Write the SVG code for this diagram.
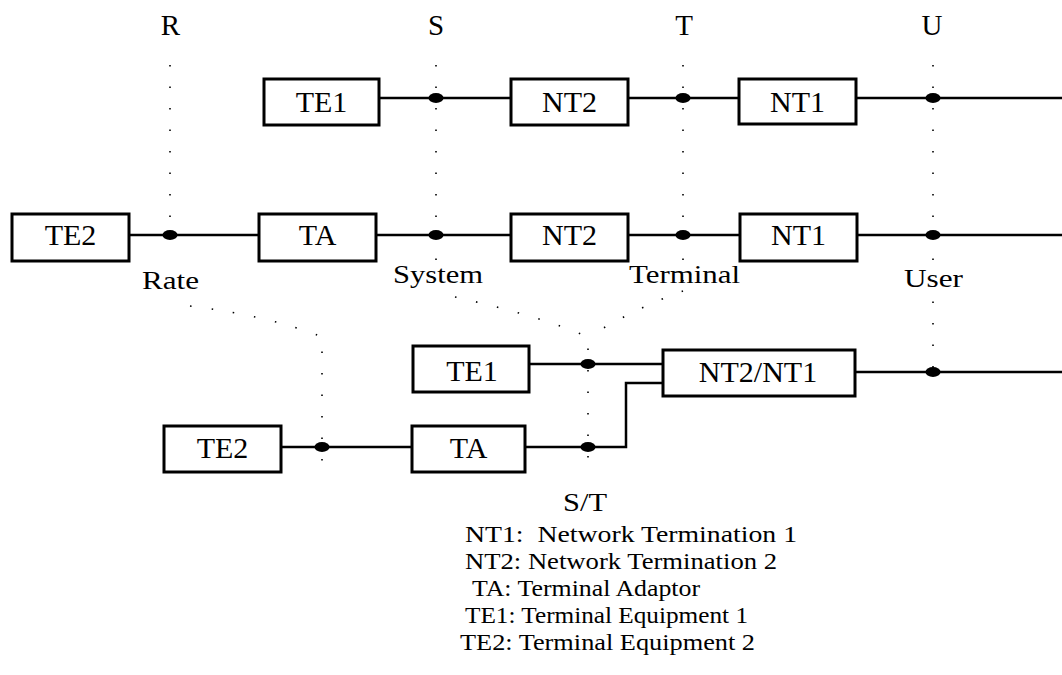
<svg xmlns="http://www.w3.org/2000/svg" width="1062" height="675" viewBox="0 0 1062 675">
<style>
.box{fill:#fff;stroke:#000;stroke-width:3}
.bl{font-family:"Liberation Serif","Times New Roman",serif;font-size:30px;text-anchor:middle;fill:#000}
.wire{fill:none;stroke:#000;stroke-width:2.5}
.dot{fill:#000}
.ref{fill:none;stroke:#000;stroke-width:1.6;stroke-dasharray:1.5 20;stroke-linecap:butt}
.pt{font-family:"Liberation Serif","Times New Roman",serif;font-size:29px;text-anchor:middle;fill:#000}
.lab{font-family:"Liberation Serif","Times New Roman",serif;font-size:26px;fill:#000}
.leg{font-family:"Liberation Serif","Times New Roman",serif;font-size:24px;fill:#000}
</style>
<rect width="1062" height="675" fill="#fff"/>

<!-- reference point labels -->
<g id="ref-labels">
<text class="pt" x="170.5" y="35">R</text>
<text class="pt" x="436" y="35">S</text>
<text class="pt" x="684" y="35">T</text>
<text class="pt" x="932" y="35">U</text>
<text class="lab" x="142" y="289" textLength="57" lengthAdjust="spacingAndGlyphs">Rate</text>
<text class="lab" x="393" y="283" textLength="90" lengthAdjust="spacingAndGlyphs">System</text>
<text class="lab" x="629" y="283" textLength="111" lengthAdjust="spacingAndGlyphs">Terminal</text>
<text class="lab" x="904" y="287" textLength="59" lengthAdjust="spacingAndGlyphs">User</text>
<text class="lab" x="563" y="511" textLength="44" lengthAdjust="spacingAndGlyphs">S/T</text>
</g>

<!-- dotted reference lines -->
<g id="reference-lines">
<path class="ref" d="M170,65 V235"/>
<path class="ref" d="M436,65 V262"/>
<path class="ref" d="M683,65 V292"/>
<path class="ref" d="M933,65 V384"/>
<path class="ref" d="M190,306 Q270,316 322,337 V472"/>
<path class="ref" d="M455,297 Q540,316 588,337 V472"/>
<path class="ref" d="M683,291 Q640,306 588,337"/>
</g>

<!-- connectors -->
<g id="connectors">
<path class="wire" d="M379,98 H511"/>
<path class="wire" d="M628,98 H739"/>
<path class="wire" d="M856,98 H1062"/>
<path class="wire" d="M129,235 H259"/>
<path class="wire" d="M376,235 H511"/>
<path class="wire" d="M628,235 H740"/>
<path class="wire" d="M857,235 H1062"/>
<path class="wire" d="M529,364 H663"/>
<path class="wire" d="M855,372 H1062"/>
<path class="wire" d="M281,447 H412"/>
<path class="wire" d="M525,447 H626 V383 H663"/>
<ellipse class="dot" cx="436" cy="98" rx="7.5" ry="5"/>
<ellipse class="dot" cx="683" cy="98" rx="7.5" ry="5"/>
<ellipse class="dot" cx="933" cy="98" rx="7.5" ry="5"/>
<ellipse class="dot" cx="170" cy="235" rx="7.5" ry="5"/>
<ellipse class="dot" cx="436" cy="235" rx="7.5" ry="5"/>
<ellipse class="dot" cx="683" cy="235" rx="7.5" ry="5"/>
<ellipse class="dot" cx="933" cy="235" rx="7.5" ry="5"/>
<ellipse class="dot" cx="588" cy="364" rx="7.5" ry="5"/>
<ellipse class="dot" cx="933" cy="372" rx="7.5" ry="5"/>
<ellipse class="dot" cx="322" cy="447" rx="7.5" ry="5"/>
<ellipse class="dot" cx="588" cy="447" rx="7.5" ry="5"/>
</g>

<!-- row 1 -->
<g id="r1-te1"><rect class="box" x="264" y="79" width="115" height="46"/><text class="bl" x="321.5" y="112">TE1</text></g>
<g id="r1-nt2"><rect class="box" x="511" y="79" width="117" height="46"/><text class="bl" x="569.5" y="112">NT2</text></g>
<g id="r1-nt1"><rect class="box" x="739" y="79" width="117" height="45"/><text class="bl" x="797.5" y="112">NT1</text></g>

<!-- row 2 -->
<g id="r2-te2"><rect class="box" x="12" y="214" width="117" height="47"/><text class="bl" x="70.5" y="245">TE2</text></g>
<g id="r2-ta"><rect class="box" x="259" y="214" width="117" height="47"/><text class="bl" x="317.5" y="245">TA</text></g>
<g id="r2-nt2"><rect class="box" x="511" y="214" width="117" height="47"/><text class="bl" x="569.5" y="245">NT2</text></g>
<g id="r2-nt1"><rect class="box" x="740" y="214" width="117" height="47"/><text class="bl" x="798.5" y="245">NT1</text></g>

<!-- rows 3 and 4 -->
<g id="r3-te1"><rect class="box" x="413" y="346" width="116" height="46"/><text class="bl" x="472" y="381">TE1</text></g>
<g id="r3-nt2nt1"><rect class="box" x="663" y="350" width="192" height="46"/><text class="bl" x="758" y="382">NT2/NT1</text></g>
<g id="r4-te2"><rect class="box" x="164" y="426" width="117" height="46"/><text class="bl" x="222.5" y="458">TE2</text></g>
<g id="r4-ta"><rect class="box" x="412" y="426" width="113" height="46"/><text class="bl" x="468.5" y="458">TA</text></g>

<!-- legend -->
<g id="legend">
<text class="leg" x="465" y="542" xml:space="preserve" textLength="332" lengthAdjust="spacingAndGlyphs">NT1:  Network Termination 1</text>
<text class="leg" x="465" y="569" textLength="312" lengthAdjust="spacingAndGlyphs">NT2: Network Termination 2</text>
<text class="leg" x="472" y="596" textLength="228" lengthAdjust="spacingAndGlyphs">TA: Terminal Adaptor</text>
<text class="leg" x="465" y="623" textLength="283" lengthAdjust="spacingAndGlyphs">TE1: Terminal Equipment 1</text>
<text class="leg" x="460" y="650" textLength="295" lengthAdjust="spacingAndGlyphs">TE2: Terminal Equipment 2</text>
</g>
</svg>
